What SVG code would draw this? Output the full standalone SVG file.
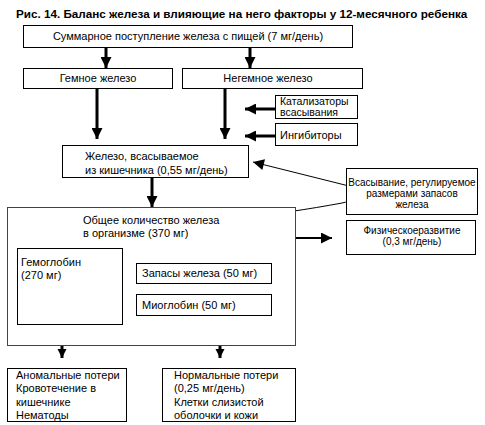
<svg xmlns="http://www.w3.org/2000/svg" width="485" height="425" viewBox="0 0 485 425">
<style>
text{font-family:"Liberation Sans",Arial,sans-serif;font-size:11px;fill:#000}
.t{font-family:"Liberation Sans",Arial,sans-serif;font-weight:bold;font-size:11.7px}
.s{font-size:10px}
.k{font-size:10.5px}
.c{text-anchor:middle}
rect{fill:#fff;stroke:#000;stroke-width:1}
.big{stroke:#444}
.th{stroke:#000;stroke-width:3;fill:none}
.md{stroke:#000;stroke-width:2;fill:none}
.thin{stroke:#000;stroke-width:1;fill:none}
</style>
<defs>
<marker id="ah" viewBox="0 0 10 10" refX="10" refY="5" markerWidth="11" markerHeight="11" markerUnits="userSpaceOnUse" orient="auto"><path d="M0,0L10,5L0,10z" fill="#000"/></marker>
<marker id="ahs" viewBox="0 0 10 10" refX="10" refY="5" markerWidth="9" markerHeight="10" markerUnits="userSpaceOnUse" orient="auto"><path d="M0,0L10,5L0,10z" fill="#000"/></marker>
<marker id="ahl" viewBox="0 0 10 10" refX="10" refY="5" markerWidth="13" markerHeight="11" markerUnits="userSpaceOnUse" orient="auto"><path d="M0,0L10,5L0,10z" fill="#000"/></marker>
</defs>
<rect width="485" height="425" style="fill:#fff;stroke:none"/>
<text class="t" x="16" y="18">Рис. 14. Баланс железа и влияющие на него факторы у 12-месячного ребенка</text>

<g id="connectors">
<line class="th" x1="106" y1="47" x2="106" y2="68" marker-end="url(#ah)"/>
<line class="th" x1="250" y1="47" x2="250" y2="68" marker-end="url(#ah)"/>
<line class="th" x1="97" y1="88" x2="97" y2="139" marker-end="url(#ah)"/>
<line class="th" x1="225" y1="88" x2="225" y2="139" marker-end="url(#ah)"/>
<line class="th" x1="275" y1="109" x2="245" y2="109" marker-end="url(#ah)"/>
<line class="th" x1="275" y1="136" x2="245" y2="136" marker-end="url(#ah)"/>
<line class="th" x1="152" y1="178" x2="152" y2="207" marker-end="url(#ah)"/>
<path class="thin" d="M232,219 C270,215 310,209 342,203 C362,199 362,189 345,185 L253,162" marker-end="url(#ahl)"/>
<line class="md" x1="215" y1="238" x2="332" y2="238" marker-end="url(#ahl)"/>
<line class="md" x1="222" y1="236.5" x2="229" y2="236.5"/>
<line class="th" x1="62" y1="345" x2="62" y2="358" marker-end="url(#ahs)"/>
<line class="th" x1="220" y1="345" x2="220" y2="358" marker-end="url(#ahs)"/>
</g>

<g id="total-intake"><rect x="23.5" y="25.5" width="329" height="22"/><text class="c" x="188" y="40">Суммарное поступление железа с пищей (7 мг/день)</text></g>
<g id="heme"><rect x="23.5" y="68.5" width="149" height="20"/><text class="c" x="98" y="82">Гемное железо</text></g>
<g id="nonheme"><rect x="182.5" y="68.5" width="180" height="20"/><text class="c" x="268" y="82">Негемное железо</text></g>
<g id="catalysts"><rect x="275.5" y="95.5" width="82" height="23"/><text class="k" x="280" y="105">Катализаторы</text><text class="k" x="280" y="116">всасывания</text></g>
<g id="inhibitors"><rect x="275.5" y="123.5" width="82" height="22"/><text x="280" y="139">Ингибиторы</text></g>
<g id="absorbed"><rect x="62.5" y="145.5" width="186" height="32"/><text x="85" y="160">Железо, всасываемое</text><text x="85" y="174">из кишечника (0,55 мг/день)</text></g>
<g id="regulated"><rect x="346.5" y="168.5" width="131" height="46"/><text class="c s" x="412" y="186">Всасывание, регулируемое</text><text class="c s" x="412" y="197">размерами запасов</text><text class="c s" x="412" y="208">железа</text></g>
<g id="growth"><rect x="346.5" y="220.5" width="129" height="34"/><text class="c s" x="412" y="234">Физическоеразвитие</text><text class="c s" x="412" y="245">(0,3 мг/день)</text></g>
<g id="body-total"><rect class="big" x="7.5" y="207.5" width="288" height="138"/><text x="83" y="224">Общее количество железа</text><text x="83" y="237">в организме (370 мг)</text></g>
<g id="hemoglobin"><rect x="17.5" y="248.5" width="105" height="76"/><text x="21" y="266">Гемоглобин</text><text x="21" y="279">(270 мг)</text></g>
<g id="stores"><rect x="136.5" y="263.5" width="135" height="20"/><text x="142" y="277">Запасы железа (50 мг)</text></g>
<g id="myoglobin"><rect x="136.5" y="294.5" width="135" height="21"/><text x="142" y="309">Миоглобин (50 мг)</text></g>
<g id="abnormal-loss"><rect x="7.5" y="368.5" width="119" height="53"/><text x="16" y="379">Аномальные потери</text><text x="16" y="392">Кровотечение в</text><text x="16" y="406">кишечнике</text><text x="16" y="419">Нематоды</text></g>
<g id="normal-loss"><rect x="162.5" y="368.5" width="133" height="53"/><text x="174" y="379">Нормальные потери</text><text x="174" y="392">(0,25 мг/день)</text><text x="174" y="406">Клетки слизистой</text><text x="174" y="419">оболочки и кожи</text></g>
</svg>
